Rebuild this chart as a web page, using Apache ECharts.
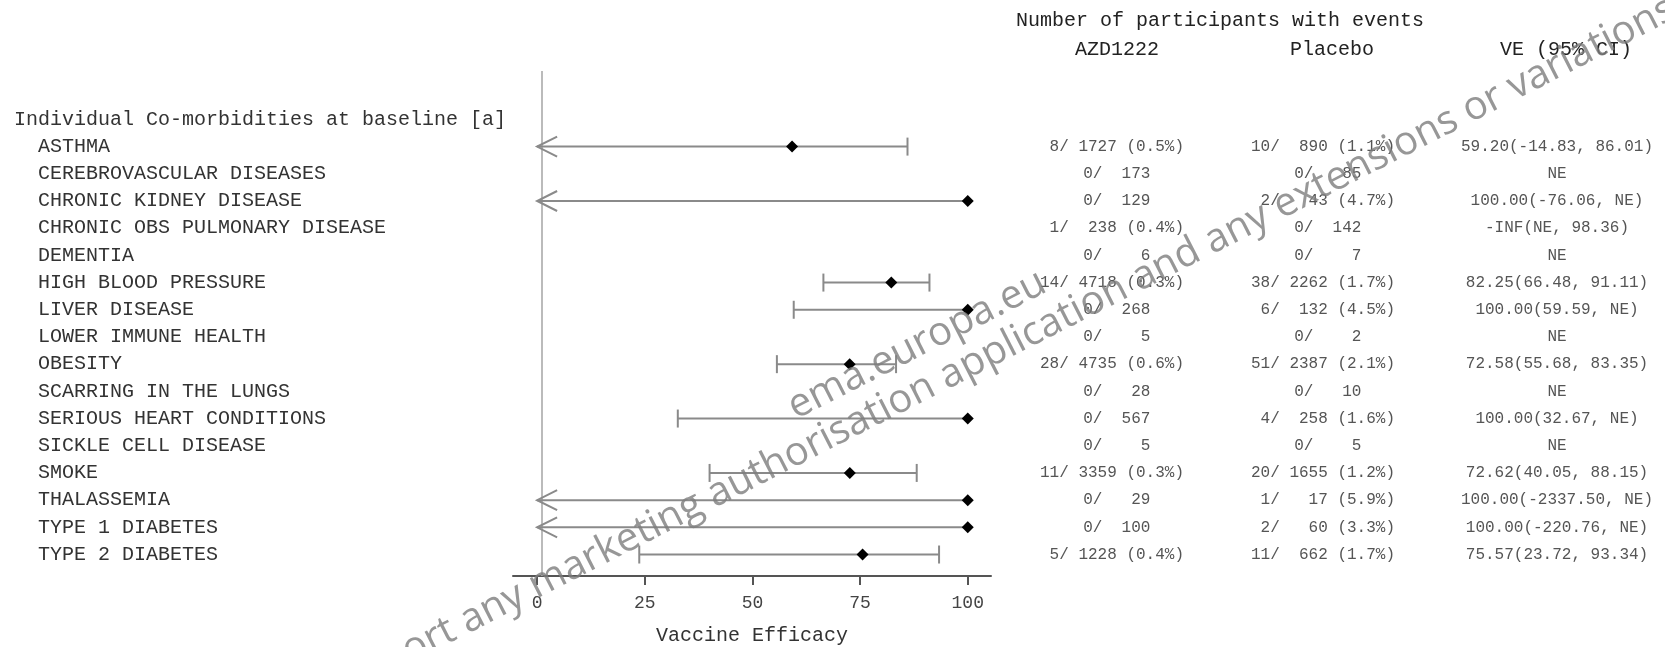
<!DOCTYPE html>
<html><head><meta charset="utf-8">
<script src="https://cdn.jsdelivr.net/npm/echarts@6/dist/echarts.min.js"></script>
<style>html,body{margin:0;padding:0;background:#fff}#c{width:1665px;height:647px}</style>
</head><body><div id="c"></div>
<script>
// ---------------- data ----------------
const rowLabels = [
  'Individual Co-morbidities at baseline [a]',
  '  ASTHMA', '  CEREBROVASCULAR DISEASES', '  CHRONIC KIDNEY DISEASE',
  '  CHRONIC OBS PULMONARY DISEASE', '  DEMENTIA', '  HIGH BLOOD PRESSURE',
  '  LIVER DISEASE', '  LOWER IMMUNE HEALTH', '  OBESITY', '  SCARRING IN THE LUNGS',
  '  SERIOUS HEART CONDITIONS', '  SICKLE CELL DISEASE', '  SMOKE', '  THALASSEMIA',
  '  TYPE 1 DIABETES', '  TYPE 2 DIABETES'
];
const azdText = ['', ' 8/ 1727 (0.5%)', ' 0/  173', ' 0/  129', ' 1/  238 (0.4%)', ' 0/    6',
  '14/ 4718 (0.3%)', ' 0/  268', ' 0/    5', '28/ 4735 (0.6%)', ' 0/   28', ' 0/  567', ' 0/    5',
  '11/ 3359 (0.3%)', ' 0/   29', ' 0/  100', ' 5/ 1228 (0.4%)'];
const placeboText = ['', '10/  890 (1.1%)', ' 0/   85', ' 2/   43 (4.7%)', ' 0/  142', ' 0/    7',
  '38/ 2262 (1.7%)', ' 6/  132 (4.5%)', ' 0/    2', '51/ 2387 (2.1%)', ' 0/   10', ' 4/  258 (1.6%)',
  ' 0/    5', '20/ 1655 (1.2%)', ' 1/   17 (5.9%)', ' 2/   60 (3.3%)', '11/  662 (1.7%)'];
const veText = ['', '59.20(-14.83, 86.01)', 'NE', '100.00(-76.06, NE)', '-INF(NE, 98.36)', 'NE',
  '82.25(66.48, 91.11)', '100.00(59.59, NE)', 'NE', '72.58(55.68, 83.35)', 'NE', '100.00(32.67, NE)',
  'NE', '72.62(40.05, 88.15)', '100.00(-2337.50, NE)', '100.00(-220.76, NE)', '75.57(23.72, 93.34)'];
const veEst  = [null, 59.20, null, 100.00, null, null, 82.25, 100.00, null, 72.58, null, 100.00, null, 72.62, 100.00, 100.00, 75.57];
const veLow  = [null, -14.83, null, -76.06, null, null, 66.48, 59.59, null, 55.68, null, 32.67, null, 40.05, -2337.50, -220.76, 23.72];
const veHigh = [null, 86.01, null, null, null, null, 91.11, null, null, 83.35, null, null, null, 88.15, null, null, 93.34];
const xTicks = [0, 25, 50, 75, 100];
const refLine = 1;
const headerTitle = 'Number of participants with events';
const colHeaders = ['AZD1222', 'Placebo', 'VE (95% CI)'];
const xAxisTitle = 'Vaccine Efficacy';
const watermark1 = 'ema.europa.eu';
const watermark2Pre = 'support any marketing authorisation application and any extensions or ';
const watermark2 = 'support any marketing authorisation application and any extensions or variations';
// --------------------------------------

const MONO = '"Liberation Mono", "Courier New", monospace';
const WM_FONT = '40px "Open Sans", "Noto Sans", sans-serif';
const rowIdx = rowLabels.map((_, i) => i);
const yMin = -1.78, yMax = 16.79;

function colAxis(texts, margin) {
  return {
    type: 'value', position: 'right', inverse: true, min: yMin, max: yMax, gridIndex: 0,
    axisLine: {show: false, onZero: false}, axisTick: {show: false}, splitLine: {show: false},
    axisLabel: {
      customValues: rowIdx, margin: margin, align: 'center',
      fontFamily: MONO, fontSize: 16, color: '#555',
      formatter: v => texts[Math.round(v)] || ''
    }
  };
}

// watermark placement: main line passes through P, "variations" begins at x = vx
const angDeg = 27;
const ang = angDeg * Math.PI / 180;
const mctx = document.createElement('canvas').getContext('2d');
mctx.font = WM_FONT;
const preW = mctx.measureText(watermark2Pre).width;
const P = [917, 392], vx = 1510;
const vStart = [vx, P[1] - (vx - P[0]) * Math.tan(ang)];
const wmStart = [vStart[0] - preW * Math.cos(ang), vStart[1] + preW * Math.sin(ang)];

const chart = echarts.init(document.getElementById('c'), null, {renderer: 'canvas'});
chart.setOption({
  animation: false,
  backgroundColor: '#fff',
  grid: {left: 513, width: 478, top: 71, bottom: 71, containLabel: false, outerBoundsMode: 'none'},
  xAxis: {
    type: 'value', min: -5.6, max: 105.4, position: 'bottom',
    axisLine: {show: true, onZero: false, lineStyle: {color: '#555', width: 2}},
    axisTick: {show: true, customValues: xTicks, length: 9, lineStyle: {color: '#555', width: 2}},
    axisLabel: {customValues: xTicks, margin: 18, fontFamily: MONO, fontSize: 18, color: '#444'},
    splitLine: {show: false},
    name: xAxisTitle, nameLocation: 'middle', nameGap: 50,
    nameTextStyle: {fontFamily: MONO, fontSize: 20, color: '#333'}
  },
  yAxis: [
    {
      type: 'value', position: 'left', inverse: true, min: yMin, max: yMax,
      axisLine: {show: false, onZero: false}, axisTick: {show: false}, splitLine: {show: false},
      axisLabel: {
        customValues: rowIdx, margin: 499, align: 'left',
        fontFamily: MONO, fontSize: 20, color: '#333',
        formatter: v => rowLabels[Math.round(v)] || ''
      }
    },
    colAxis(azdText, 121),
    colAxis(placeboText, 332),
    colAxis(veText, 566)
  ],
  graphic: [
    {type: 'text', x: 1016, y: 21, style: {text: headerTitle, font: '20px ' + MONO, fill: '#222', textAlign: 'left', textVerticalAlign: 'middle'}},
    {type: 'text', x: 1117, y: 50, style: {text: colHeaders[0], font: '20px ' + MONO, fill: '#222', textAlign: 'center', textVerticalAlign: 'middle'}},
    {type: 'text', x: 1332, y: 50, style: {text: colHeaders[1], font: '20px ' + MONO, fill: '#222', textAlign: 'center', textVerticalAlign: 'middle'}},
    {type: 'text', x: 1566, y: 50, style: {text: colHeaders[2], font: '20px ' + MONO, fill: '#222', textAlign: 'center', textVerticalAlign: 'middle'}},
    {type: 'text', x: 917, y: 345, rotation: ang, z: 100,
      style: {text: watermark1, font: WM_FONT, fill: 'rgba(125,125,125,0.8)', textAlign: 'center', textVerticalAlign: 'middle'}},
    {type: 'text', x: wmStart[0], y: wmStart[1], rotation: ang, z: 100,
      style: {text: watermark2, font: WM_FONT, fill: 'rgba(125,125,125,0.8)', textAlign: 'left', textVerticalAlign: 'middle'}}
  ],
  series: [{
    type: 'custom',
    coordinateSystem: 'cartesian2d',
    xAxisIndex: 0, yAxisIndex: 0,
    data: rowIdx.map(i => [veEst[i] == null ? 0 : veEst[i], i]),
    renderItem: function (params, api) {
      const k = params.dataIndex;
      const est = veEst[k], lo = veLow[k], hi = veHigh[k];
      if (est == null || lo == null) return {type: 'group', children: []};
      const p0 = api.coord([0, k]);
      const y = p0[1];
      const clipped = lo < 0;
      const xl = clipped ? p0[0] : api.coord([lo, k])[0];
      const xe = api.coord([est, k])[0];
      const xr = hi == null ? xe : api.coord([hi, k])[0];
      const ls = {stroke: '#8a8a8a', lineWidth: 2, fill: null};
      const ch = [];
      ch.push({type: 'line', shape: {x1: xl, y1: y, x2: xr, y2: y}, style: ls});
      if (clipped) {
        ch.push({type: 'polyline', shape: {points: [[xl + 20, y - 10], [xl, y], [xl + 20, y + 10]]}, style: ls});
      } else {
        ch.push({type: 'line', shape: {x1: xl, y1: y - 9, x2: xl, y2: y + 9}, style: ls});
      }
      if (hi != null) {
        ch.push({type: 'line', shape: {x1: xr, y1: y - 9, x2: xr, y2: y + 9}, style: ls});
      }
      const d = 6;
      ch.push({type: 'polygon', shape: {points: [[xe, y - d], [xe + d, y], [xe, y + d], [xe - d, y]]}, style: {fill: '#000'}});
      return {type: 'group', children: ch};
    },
    markLine: {
      silent: true, symbol: 'none', label: {show: false},
      lineStyle: {color: '#bbb', width: 2, type: 'solid'},
      data: [{xAxis: refLine}]
    },
    z: 5
  }]
});
</script>
</body></html>
